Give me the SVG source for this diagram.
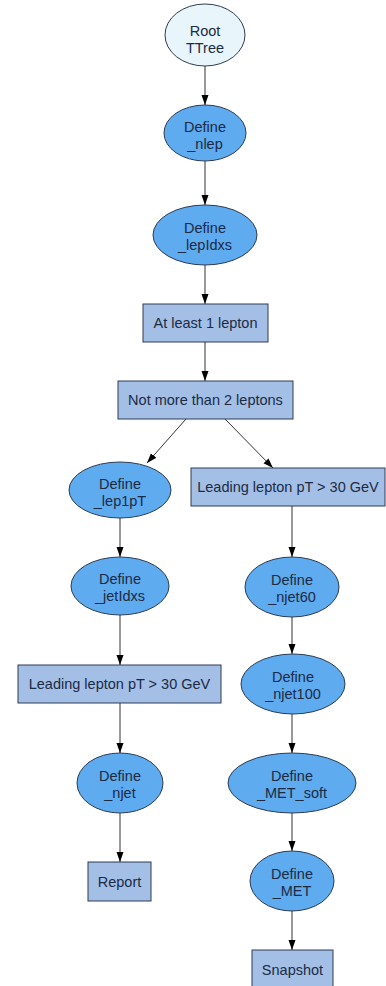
<svg xmlns="http://www.w3.org/2000/svg" width="386" height="986" viewBox="0 0 386 986">
  <style>
    text { font-family: "Liberation Sans", Arial, sans-serif; font-size: 14.5px; fill: #1c2a44; text-anchor: middle; }
    .root { fill: #e8f6fc; stroke: #2e3b52; stroke-width: 1; }
    .def { fill: #5eabef; stroke: #2e3b52; stroke-width: 1; }
    .flt { fill: #a3bfe6; stroke: #2e3b52; stroke-width: 1; }
    .edge { stroke: #333; stroke-width: 1; fill: none; marker-end: url(#arrow); }
  </style>
  <defs>
    <marker id="arrow" markerUnits="userSpaceOnUse" markerWidth="10" markerHeight="8" refX="10" refY="4" orient="auto">
      <path d="M0,0.5 L10,4 L0,7.5 z" fill="#000"/>
    </marker>
  </defs>

  <rect width="386" height="986" fill="#fff"/>

  <g id="connectors">
    <line class="edge" x1="205" y1="66" x2="205" y2="105"/>
    <line class="edge" x1="205" y1="161" x2="205" y2="205"/>
    <line class="edge" x1="205" y1="265" x2="205" y2="304"/>
    <line class="edge" x1="205" y1="342" x2="205" y2="381"/>
    <line class="edge" x1="186" y1="419" x2="147" y2="463"/>
    <line class="edge" x1="225" y1="419" x2="273" y2="468"/>
    <line class="edge" x1="120" y1="518" x2="120" y2="557"/>
    <line class="edge" x1="120" y1="615" x2="120" y2="665"/>
    <line class="edge" x1="120" y1="703" x2="120" y2="753"/>
    <line class="edge" x1="120" y1="813" x2="120" y2="862"/>
    <line class="edge" x1="292" y1="506" x2="292" y2="557"/>
    <line class="edge" x1="292" y1="617" x2="292" y2="654"/>
    <line class="edge" x1="292" y1="713" x2="292" y2="753"/>
    <line class="edge" x1="292" y1="813" x2="292" y2="851"/>
    <line class="edge" x1="292" y1="911" x2="292" y2="950"/>
  </g>

  <g id="root">
    <ellipse class="root" cx="205" cy="35" rx="40" ry="31"/>
    <text x="205" y="36">Root</text>
    <text x="205" y="53">TTree</text>
  </g>
  <g id="define_nlep">
    <ellipse class="def" cx="205" cy="133" rx="41" ry="28"/>
    <text x="205" y="132">Define</text>
    <text x="205" y="149">_nlep</text>
  </g>
  <g id="define_lepIdxs">
    <ellipse class="def" cx="205" cy="235" rx="52" ry="30"/>
    <text x="205" y="233">Define</text>
    <text x="205" y="250">_lepIdxs</text>
  </g>
  <g id="filter_one_lepton">
    <rect class="flt" x="143" y="304" width="125" height="38"/>
    <text x="205.5" y="328">At least 1 lepton</text>
  </g>
  <g id="filter_two_leptons">
    <rect class="flt" x="118" y="381" width="175" height="38"/>
    <text x="205.5" y="405">Not more than 2 leptons</text>
  </g>
  <g id="define_lep1pT">
    <ellipse class="def" cx="120" cy="490" rx="51" ry="28"/>
    <text x="120" y="489">Define</text>
    <text x="120" y="506">_lep1pT</text>
  </g>
  <g id="filter_pt_right">
    <rect class="flt" x="191" y="468" width="194" height="38"/>
    <text x="288" y="492">Leading lepton pT &gt; 30 GeV</text>
  </g>
  <g id="define_jetIdxs">
    <ellipse class="def" cx="120" cy="586" rx="49" ry="29"/>
    <text x="120" y="584">Define</text>
    <text x="120" y="601">_jetIdxs</text>
  </g>
  <g id="define_njet60">
    <ellipse class="def" cx="292" cy="587" rx="47" ry="30"/>
    <text x="292" y="585">Define</text>
    <text x="292" y="602">_njet60</text>
  </g>
  <g id="filter_pt_left">
    <rect class="flt" x="18" y="665" width="203" height="38"/>
    <text x="119.5" y="689">Leading lepton pT &gt; 30 GeV</text>
  </g>
  <g id="define_njet100">
    <ellipse class="def" cx="293" cy="684" rx="52" ry="30"/>
    <text x="293" y="682">Define</text>
    <text x="293" y="699">_njet100</text>
  </g>
  <g id="define_njet">
    <ellipse class="def" cx="120" cy="783" rx="43" ry="30"/>
    <text x="120" y="781">Define</text>
    <text x="120" y="798">_njet</text>
  </g>
  <g id="define_MET_soft">
    <ellipse class="def" cx="292" cy="783" rx="64" ry="30"/>
    <text x="292" y="781">Define</text>
    <text x="292" y="798">_MET_soft</text>
  </g>
  <g id="report">
    <rect class="flt" x="88" y="862" width="63" height="39"/>
    <text x="119.5" y="887">Report</text>
  </g>
  <g id="define_MET">
    <ellipse class="def" cx="292" cy="881" rx="42" ry="30"/>
    <text x="292" y="879">Define</text>
    <text x="292" y="896">_MET</text>
  </g>
  <g id="snapshot">
    <rect class="flt" x="252" y="950" width="81" height="39"/>
    <text x="292.5" y="975">Snapshot</text>
  </g>
</svg>
